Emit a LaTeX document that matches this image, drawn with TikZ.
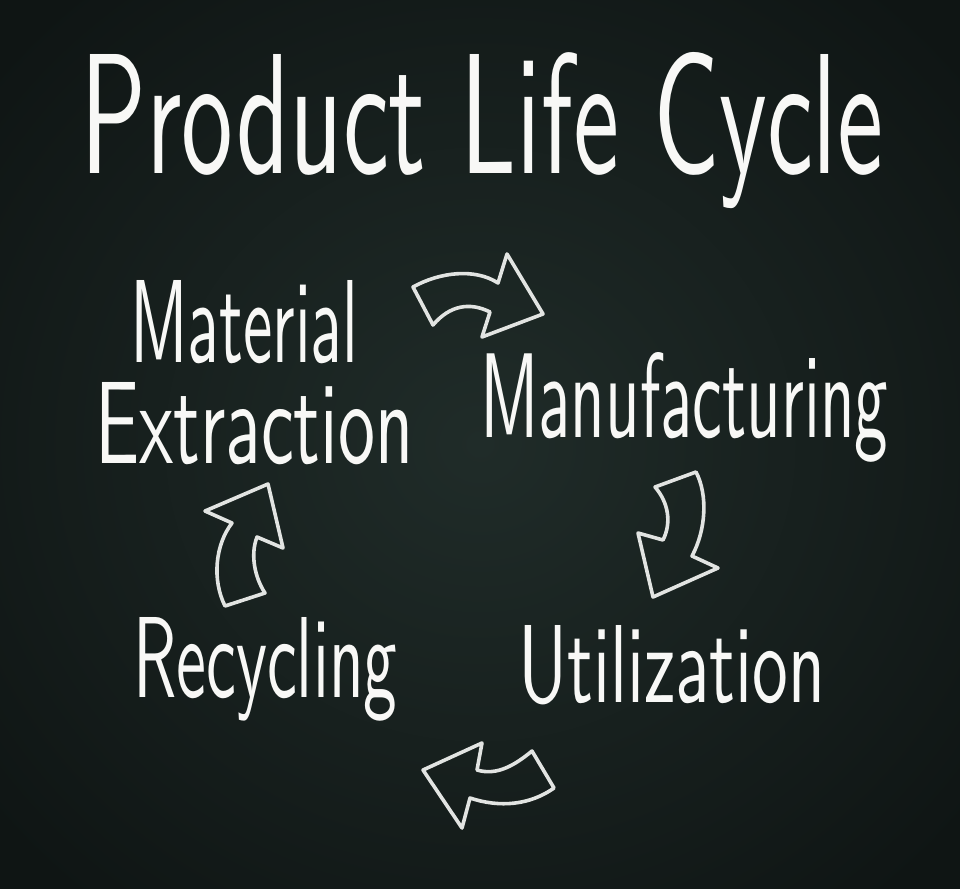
\documentclass[tikz,border=0pt]{standalone}
\usepackage{fontspec}
\usepackage{graphicx}
\definecolor{boardin}{RGB}{32,44,41}
\definecolor{boardout}{RGB}{15,21,20}
\definecolor{chalk}{RGB}{248,248,246}
\definecolor{chalkline}{RGB}{226,228,226}
\tikzset{
  chalktext/.style={anchor=base west, inner sep=0pt, text=chalk, font=\sffamily},
  cyclearrow/.style={draw=chalkline, line width=3.6pt, line join=round}
}
\newcommand{\hw}[3]{\resizebox{#1}{#2}{#3}}
\begin{document}
\begin{tikzpicture}[x=1pt,y=-1pt]
\useasboundingbox (0,0) rectangle (960,888);
\shade[inner color=boardin, outer color=boardout] (-150,-150) rectangle (1110,1038);

\node[chalktext] (title) at (80,173) {\hw{803pt}{121pt}{Product Life Cycle}};
\node[chalktext] (material) at (130,362) {\hw{228pt}{82pt}{Material}};
\node[chalktext] (extraction) at (95,463) {\hw{318pt}{81pt}{Extraction}};
\node[chalktext] (manufacturing) at (480,437) {\hw{408pt}{85pt}{Manufacturing}};
\node[chalktext] (utilization) at (518,702) {\hw{307pt}{77pt}{Utilization}};
\node[chalktext] (recycling) at (133,697) {\hw{264pt}{80pt}{Recycling}};

% arrow: material -> manufacturing
\draw[cyclearrow] (413,287) .. controls (440,272) and (475,268) .. (498,283)
  -- (507,254) -- (543,314) -- (482,337) -- (490,312)
  .. controls (470,302) and (450,305) .. (433,325) -- cycle;
% arrow: manufacturing -> utilization
\draw[cyclearrow] (655,487) -- (696,472) .. controls (708,495) and (706,530) .. (692,556)
  -- (718,568) -- (653,597) -- (638,533) -- (663,540)
  .. controls (672,522) and (668,502) .. (655,487) -- cycle;
% arrow: utilization -> recycling
\draw[cyclearrow] (423,770) -- (482,743) -- (477,770)
  .. controls (497,776) and (515,765) .. (532,751) -- (554,788)
  .. controls (530,805) and (500,808) .. (470,798) -- (462,828) -- cycle;
% arrow: recycling -> material
\draw[cyclearrow] (205,511) -- (268,484) -- (283,548) -- (257,537)
  .. controls (250,555) and (255,578) .. (265,593) -- (225,606)
  .. controls (212,580) and (215,545) .. (232,523) -- cycle;
\end{tikzpicture}
\end{document}
